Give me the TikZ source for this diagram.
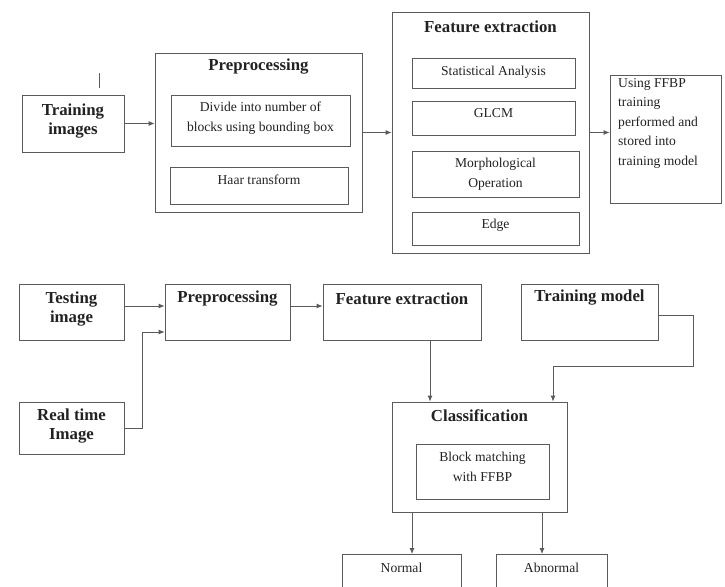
\documentclass[tikz,border=0pt]{standalone}
\usepackage{fontspec}
\setmainfont{Liberation Serif}
\usetikzlibrary{arrows.meta,calc}
\definecolor{ln}{HTML}{5A5A5A}
\definecolor{tx}{HTML}{222222}
\tikzset{
  box/.style={draw=ln,line width=0.8pt,rectangle,inner sep=0pt},
  ttl/.style={font=\fontsize{16.8}{19.5}\selectfont\bfseries,text=tx,inner sep=0pt,align=center},
  lbl/.style={font=\fontsize{13.6}{19.5}\selectfont,text=tx,inner sep=0pt,align=center},
  arr/.style={draw=ln,line width=0.8pt,-{Latex[length=6pt,width=5pt]}},
  ln0/.style={draw=ln,line width=0.8pt}
}
\begin{document}
\begin{tikzpicture}[x=1pt,y=-1pt]
\useasboundingbox (0,0) rectangle (725,586);
\clip (0,0) rectangle (725,586);
% top row
\node[box,minimum width=102pt,minimum height=57pt] (train) at (73,123.5) {};
\node[ttl] (traint) at (73,121) {Training\\images};
\coordinate (tick1) at (99,73);
\coordinate (tick2) at (99,88);
\draw[ln0] (tick1) -- (tick2);

\node[box,minimum width=207pt,minimum height=159pt] (prepro) at (258.5,132.5) {};
\node[ttl] (preprot) at (258.5,67) {Preprocessing};
\node[box,minimum width=179pt,minimum height=51pt] (divide) at (260.5,120.5) {};
\node[lbl] (dividet) at (260.5,118) {Divide into number of\\blocks using bounding box};
\node[box,minimum width=178pt,minimum height=37pt] (haar) at (259,185.5) {};
\node[lbl] (haart) at (259,180) {Haar transform};

\node[box,minimum width=197pt,minimum height=241pt] (feat) at (490.5,132.5) {};
\node[ttl] (featt) at (490.5,27) {Feature extraction};
\node[box,minimum width=163pt,minimum height=30pt] (stat) at (493.5,73) {};
\node[lbl] (statt) at (493.5,72) {Statistical Analysis};
\node[box,minimum width=163pt,minimum height=34pt] (glcm) at (493.5,118) {};
\node[lbl] (glcmt) at (493.5,113) {GLCM};
\node[box,minimum width=167pt,minimum height=46pt] (morph) at (495.5,174) {};
\node[lbl] (morpht) at (495.5,174) {Morphological\\Operation};
\node[box,minimum width=167pt,minimum height=33pt] (edge) at (495.5,228.5) {};
\node[lbl] (edget) at (495.5,225) {Edge};

\node[box,minimum width=111pt,minimum height=128pt] (ffbp) at (665.5,139) {};
\node[lbl,align=left,anchor=north west] (ffbpt) at (618,78) {Using FFBP\\training\\performed and\\stored into\\training model};

\draw[arr] (train.east) -- (train.east -| prepro.west);
\draw[arr] (prepro.east) -- (prepro.east -| feat.west);
\draw[arr] (feat.east) -- (feat.east -| ffbp.west);

% bottom part
\node[box,minimum width=105pt,minimum height=56pt] (test) at (71.5,312) {};
\node[ttl] (testt) at (71.5,309) {Testing\\image};
\node[box,minimum width=125pt,minimum height=56pt] (prep2) at (227.5,312) {};
\node[ttl] (prep2t) at (227.5,299) {Preprocessing};
\node[box,minimum width=158pt,minimum height=56pt] (feat2) at (402,312) {};
\node[ttl] (feat2t) at (402,299) {Feature extraction};
\node[box,minimum width=137pt,minimum height=56pt] (tmodel) at (589.5,312) {};
\node[ttl] (tmodelt) at (589.5,298) {Training model};
\node[box,minimum width=105pt,minimum height=52pt] (real) at (71.5,428) {};
\node[ttl] (realt) at (71.5,426) {Real time\\Image};
\node[box,minimum width=175pt,minimum height=110pt] (class) at (479.5,457) {};
\node[ttl] (classt) at (479.5,416) {Classification};
\node[box,minimum width=133pt,minimum height=55pt] (block) at (482.5,471.5) {};
\node[lbl] (blockt) at (482.5,467) {Block matching\\with FFBP};
\node[box,minimum width=119pt,minimum height=60pt,anchor=north] (normal) at (401.5,554) {};
\node[lbl] (normalt) at (401.5,568) {Normal};
\node[box,minimum width=111pt,minimum height=60pt,anchor=north] (abn) at (551.5,554) {};
\node[lbl] (abnt) at (551.5,568) {Abnormal};

\coordinate (ta) at ($(test.east)+(0,-6)$);
\draw[arr] (ta) -- (ta -| prep2.west);
\coordinate (pa) at ($(prep2.east)+(0,-6)$);
\draw[arr] (pa) -- (pa -| feat2.west);
\coordinate (rb) at (142,428);
\coordinate (pb) at ($(prep2.west)+(0,20)$);
\draw[arr] (real.east) -- (rb) |- (pb);
\coordinate (fa) at ($(feat2.south)+(28,0)$);
\draw[arr] (fa) -- (fa |- class.north);
\coordinate (tm0) at ($(tmodel.east)+(0,3)$);
\coordinate (tm1) at (693,366);
\coordinate (tm2) at ($(class.north)+(73.5,0)$);
\draw[arr] (tm0) -| (tm1) -| (tm2);
\coordinate (ca) at ($(class.south)+(-67.5,0)$);
\draw[arr] (ca) -- (ca |- normal.north);
\coordinate (cb) at ($(class.south)+(62.5,0)$);
\draw[arr] (cb) -- (cb |- abn.north);
\end{tikzpicture}
\end{document}
